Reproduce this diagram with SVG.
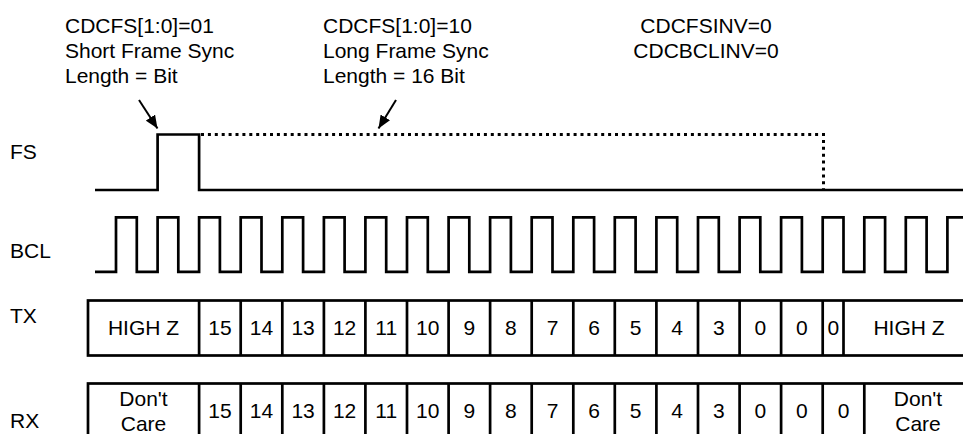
<svg xmlns="http://www.w3.org/2000/svg" width="963" height="434" viewBox="0 0 963 434">
<defs>
<style>
text{font-family:"Liberation Sans",Arial,sans-serif;font-size:21px;fill:#000}
.m{text-anchor:middle}
.w{fill:none;stroke:#000;stroke-width:2.7}
.dot{fill:none;stroke:#000;stroke-width:3;stroke-dasharray:3 3.9}
.box{fill:none;stroke:#000;stroke-width:2.7}
.arr{stroke:#000;stroke-width:2;fill:none}
</style>
<marker id="ah" markerUnits="userSpaceOnUse" viewBox="0 0 13 11" refX="13" refY="5.5" markerWidth="13" markerHeight="11" orient="auto">
<path d="M0,0 L13,5.5 L0,11 z" fill="#000"/>
</marker>
</defs>
<rect width="963" height="434" fill="#fff"/>
<g id="note-short">
<text x="65" y="33">CDCFS[1:0]=01</text>
<text x="65" y="58">Short Frame Sync</text>
<text x="65" y="83">Length = Bit</text>
</g>
<g id="note-long">
<text x="323" y="33">CDCFS[1:0]=10</text>
<text x="323" y="58">Long Frame Sync</text>
<text x="323" y="83">Length = 16 Bit</text>
</g>
<g id="note-inv">
<text class="m" x="706" y="33">CDCFSINV=0</text>
<text class="m" x="706" y="58">CDCBCLINV=0</text>
</g>
<g id="labels">
<text x="10" y="159">FS</text>
<text x="10" y="258">BCL</text>
<text x="10" y="323">TX</text>
<text x="10" y="428">RX</text>
</g>
<g id="fs">
<path class="w" d="M95,190 H157.6 V134.5 H199.1 V190 H965"/>
<path class="dot" d="M201,134.5 H823.5 V190"/>
</g>
<g id="bcl">
<path class="w" d="M95,271.8 H116 V217.3 H136.8 V271.8 H157.6 V217.3 H178.3 V271.8 H199.1 V217.3 H219.9 V271.8 H240.7 V217.3 H261.5 V271.8 H282.3 V217.3 H303.1 V271.8 H323.9 V217.3 H344.6 V271.8 H365.4 V217.3 H386.2 V271.8 H407 V217.3 H427.8 V271.8 H448.6 V217.3 H469.3 V271.8 H490.1 V217.3 H510.9 V271.8 H531.7 V217.3 H552.5 V271.8 H573.3 V217.3 H594.1 V271.8 H614.8 V217.3 H635.6 V271.8 H656.4 V217.3 H677.2 V271.8 H698 V217.3 H718.8 V271.8 H739.6 V217.3 H760.3 V271.8 H781.1 V217.3 H801.9 V271.8 H822.7 V217.3 H843.5 V271.8 H864.3 V217.3 H885.1 V271.8 H905.8 V217.3 H926.6 V271.8 H947.4 V217.3 H965"/>
</g>
<g id="tx">
<rect class="box" x="88" y="300.5" width="885" height="55"/>
<path class="box" d="M199.1,300.5V355.5M240.7,300.5V355.5M282.3,300.5V355.5M323.9,300.5V355.5M365.4,300.5V355.5M407,300.5V355.5M448.6,300.5V355.5M490.1,300.5V355.5M531.7,300.5V355.5M573.3,300.5V355.5M614.8,300.5V355.5M656.4,300.5V355.5M698,300.5V355.5M739.6,300.5V355.5M781.1,300.5V355.5M822.7,300.5V355.5M843.5,300.5V355.5"/>
<text class="m" x="143.5" y="335">HIGH Z</text>
<text class="m" x="219.9" y="335">15</text>
<text class="m" x="261.5" y="335">14</text>
<text class="m" x="303.1" y="335">13</text>
<text class="m" x="344.6" y="335">12</text>
<text class="m" x="386.2" y="335">11</text>
<text class="m" x="427.8" y="335">10</text>
<text class="m" x="469.3" y="335">9</text>
<text class="m" x="510.9" y="335">8</text>
<text class="m" x="552.5" y="335">7</text>
<text class="m" x="594.1" y="335">6</text>
<text class="m" x="635.6" y="335">5</text>
<text class="m" x="677.2" y="335">4</text>
<text class="m" x="718.8" y="335">3</text>
<text class="m" x="760.3" y="335">0</text>
<text class="m" x="801.9" y="335">0</text>
<text class="m" x="833.3" y="335">0</text>
<text class="m" x="909" y="335">HIGH Z</text>
</g>
<g id="rx">
<rect class="box" x="88" y="383.5" width="885" height="60"/>
<path class="box" d="M199.1,383.5V440M240.7,383.5V440M282.3,383.5V440M323.9,383.5V440M365.4,383.5V440M407,383.5V440M448.6,383.5V440M490.1,383.5V440M531.7,383.5V440M573.3,383.5V440M614.8,383.5V440M656.4,383.5V440M698,383.5V440M739.6,383.5V440M781.1,383.5V440M822.7,383.5V440M864.3,383.5V440"/>
<text class="m" x="143.5" y="406">Don't</text>
<text class="m" x="143.5" y="431">Care</text>
<text class="m" x="219.9" y="418">15</text>
<text class="m" x="261.5" y="418">14</text>
<text class="m" x="303.1" y="418">13</text>
<text class="m" x="344.6" y="418">12</text>
<text class="m" x="386.2" y="418">11</text>
<text class="m" x="427.8" y="418">10</text>
<text class="m" x="469.3" y="418">9</text>
<text class="m" x="510.9" y="418">8</text>
<text class="m" x="552.5" y="418">7</text>
<text class="m" x="594.1" y="418">6</text>
<text class="m" x="635.6" y="418">5</text>
<text class="m" x="677.2" y="418">4</text>
<text class="m" x="718.8" y="418">3</text>
<text class="m" x="760.3" y="418">0</text>
<text class="m" x="801.9" y="418">0</text>
<text class="m" x="843.5" y="418">0</text>
<text class="m" x="918" y="406">Don't</text>
<text class="m" x="918" y="431">Care</text>
</g>
<g id="connectors">
<line class="arr" x1="139" y1="100" x2="157.5" y2="128.5" marker-end="url(#ah)"/>
<line class="arr" x1="396" y1="100" x2="378.5" y2="128.5" marker-end="url(#ah)"/>
</g>
</svg>
